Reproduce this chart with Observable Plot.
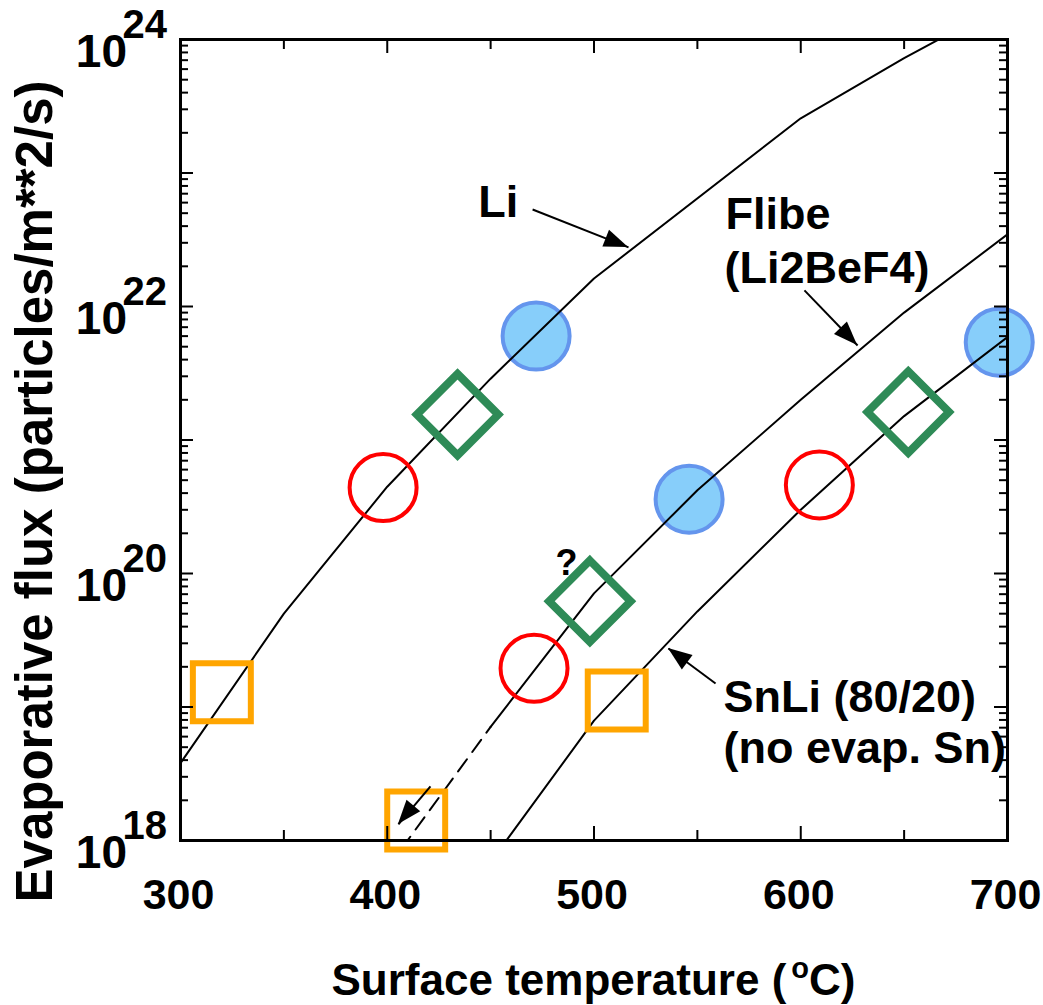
<!DOCTYPE html>
<html><head><meta charset="utf-8">
<script src="https://cdn.jsdelivr.net/npm/d3@7"></script>
<script src="https://cdn.jsdelivr.net/npm/@observablehq/plot@0.6"></script>
<style>
html,body{margin:0;padding:0;background:#fff;}
#chart svg{display:block;}
</style></head><body><div id="chart"></div>
<script>
// ---- data (temperature °C, evaporative flux particles/m^2/s) ----
const liT = [300, 350, 400, 450, 500, 600, 650, 700];
const liF = [3.8e18, 5.0e19, 4.47e20, 2.88e21, 1.62e22, 2.57e23, 7.24e23, 1.9e24];

const flibeT = [450, 500, 550, 600, 650, 700];
const flibeF = [7.1e18, 7.1e19, 4.2e20, 2.0e21, 9.0e21, 3.47e22];
const flibeDashT = [400, 450];
const flibeDashF = [6.2e17, 7.1e18];

const snliT = [450, 500, 550, 600, 650, 700];
const snliF = [6.9e17, 7.9e18, 5.2e19, 3.0e20, 1.51e21, 5.9e21];

// markers: one per material (Li, Flibe, SnLi)
const squareT = [320, 414, 511];
const squareF = [1.29e19, 1.41e18, 1.12e19];
const redT = [398, 471, 609];
const redF = [4.4e20, 1.95e19, 4.6e20];
const diamondT = [434, 498, 652];
const diamondF = [1.55e21, 6.2e19, 1.62e21];
const blueT = [472, 546, 696];
const blueF = [6.0e21, 3.6e20, 5.4e21];

// annotations
const labelText = ["Li", "Flibe", "(Li2BeF4)", "SnLi (80/20)", "(no evap. Sn)"];
const labelT = [444, 563.6, 563.1, 562.6, 562.6];
const labelF = [4.65e22, 3.78e22, 1.51e22, 9.1e18, 3.78e18];
const qText = ["?"];
const qT = [481.4];
const qF = [9.8e19];

const arrowT1 = [470.3, 601.8, 558.8, 420.9];
const arrowF1 = [5.33e22, 1.32e22, 1.5e19, 2.54e18];
const arrowT2 = [516.7, 627.5, 536.0, 405.4];
const arrowF2 = [2.77e22, 5.1e21, 2.74e19, 1.32e18];

// ticks
const xMajor = [300, 400, 500, 600, 700];
const xMinor = [350, 450, 550, 650];
const xTickLabels = ["300", "400", "500", "600", "700"];
const yMajor = [1e18, 1e19, 1e20, 1e21, 1e22, 1e23, 1e24];
const yMinor = [];
for (let e = 18; e < 24; e++) for (let m = 2; m <= 9; m++) yMinor.push(m * Math.pow(10, e));
const yLabelVals = [1e18, 1e20, 1e22, 1e24];
const yLabelExp = ["18", "20", "22", "24"];

const xTitle = "Surface temperature (";
const yTitle = "Evaporative flux (particles/m**2/s)";

// ---- build rows ----
const rows = (T, F) => T.map((t, i) => ({t, f: F[i]}));
const liRows = rows(liT, liF), flibeRows = rows(flibeT, flibeF), flibeDash = rows(flibeDashT, flibeDashF), snliRows = rows(snliT, snliF);
const squares = rows(squareT, squareF), reds = rows(redT, redF), diamonds = rows(diamondT, diamondF), blues = rows(blueT, blueF);
const labels = labelText.map((s, i) => ({s, t: labelT[i], f: labelF[i]}));
const qs = qText.map((s, i) => ({s, t: qT[i], f: qF[i]}));
const arrows = arrowT1.map((t1, i) => ({t1, f1: arrowF1[i], t2: arrowT2[i], f2: arrowF2[i]}));

const W = 1043, H = 1005, ML = 180, MR = 36, MT = 39, MB = 165;
const FW = W - ML - MR, FH = H - MT - MB;
const FONT = "'Liberation Sans', Arial, Helvetica, sans-serif";

function arrowHeads(index, scales) {
  const g = d3.create("svg:g");
  for (const a of arrows) {
    const x1 = scales.x(a.t1), y1 = scales.y(a.f1), x2 = scales.x(a.t2), y2 = scales.y(a.f2);
    const ang = Math.atan2(y2 - y1, x2 - x1);
    const L = 24, Wd = 9;
    const bx = x2 - L * Math.cos(ang), by = y2 - L * Math.sin(ang);
    const px = -Math.sin(ang) * Wd, py = Math.cos(ang) * Wd;
    g.append("path").attr("d", `M${x2},${y2}L${bx + px},${by + py}L${bx - px},${by - py}Z`).attr("fill", "black");
  }
  return g.node();
}

function yTickLabels(index, scales, values, dims) {
  const g = d3.create("svg:g").attr("font-family", FONT).attr("font-weight", "bold").attr("fill", "black");
  yLabelVals.forEach((v, i) => {
    const py = scales.y(v);
    g.append("text").attr("x", dims.marginLeft - 53).attr("y", py + 28)
      .attr("text-anchor", "end").attr("font-size", 46).text("10");
    g.append("text").attr("x", dims.marginLeft - 13).attr("y", py - 1)
      .attr("text-anchor", "end").attr("font-size", 40).text(yLabelExp[i]);
  });
  return g.node();
}

function titles(index, scales, values, dims) {
  const g = d3.create("svg:g").attr("font-family", FONT).attr("font-weight", "bold").attr("fill", "black");
  const cx = (dims.marginLeft + dims.width - dims.marginRight) / 2;
  const t = g.append("text").attr("x", cx).attr("y", dims.height - 10).attr("text-anchor", "middle").attr("font-size", 44);
  t.append("tspan").text(xTitle);
  t.append("tspan").attr("font-size", 29).attr("dx", 5).attr("dy", -17).text("o");
  t.append("tspan").attr("dy", 17).text("C)");
  const cy = (dims.marginTop + dims.height - dims.marginBottom) / 2 + 52;
  g.append("text").attr("transform", `translate(${dims.marginLeft - 128},${cy}) rotate(-90)`)
    .attr("text-anchor", "middle").attr("font-size", 51).text(yTitle);
  return g.node();
}

const plot = Plot.plot({
  width: W, height: H,
  marginLeft: ML, marginRight: MR, marginTop: MT, marginBottom: MB,
  x: {domain: [300, 700], axis: null},
  y: {type: "log", domain: [1e18, 1e24], axis: null},
  style: {fontFamily: FONT, background: "white", color: "black", overflow: "visible"},
  marks: [
    // blue filled circles under the curves
    Plot.dot(blues, {x: "t", y: "f", r: 33.5, fill: "#87CEFA", stroke: "#6495ED", strokeWidth: 4}),
    // curves
    Plot.line(liRows, {x: "t", y: "f", stroke: "black", strokeWidth: 2, clip: true}),
    Plot.line(flibeRows, {x: "t", y: "f", stroke: "black", strokeWidth: 2, clip: true}),
    Plot.line(flibeDash, {x: "t", y: "f", stroke: "black", strokeWidth: 2, strokeDasharray: "15,9", clip: true}),
    Plot.line(snliRows, {x: "t", y: "f", stroke: "black", strokeWidth: 2, clip: true}),
    // open markers
    Plot.dot(reds, {x: "t", y: "f", r: 33.5, fill: "none", stroke: "#FF0000", strokeWidth: 4}),
    Plot.dot(diamonds, {x: "t", y: "f", r: 36.7, symbol: "diamond2", fill: "none", stroke: "#2E8B57", strokeWidth: 8}),
    Plot.dot(squares, {x: "t", y: "f", r: 32.7, symbol: "square", fill: "none", stroke: "#FFA500", strokeWidth: 6}),
    // annotation arrows
    Plot.link(arrows, {x1: "t1", y1: "f1", x2: "t2", y2: "f2", stroke: "black", strokeWidth: 2}),
    arrowHeads,
    Plot.text(labels, {x: "t", y: "f", text: "s", textAnchor: "start", lineAnchor: "bottom", fontSize: 45, fontWeight: "bold", fill: "black"}),
    Plot.text(qs, {x: "t", y: "f", text: "s", textAnchor: "start", lineAnchor: "bottom", fontSize: 36, fontWeight: "bold", fill: "black"}),
    // frame and inward ticks
    Plot.frame({stroke: "black", strokeWidth: 3}),
    Plot.tickX(xMajor, {x: d => d, insetTop: FH - 14, stroke: "black", strokeWidth: 2}),
    Plot.tickX(xMinor, {x: d => d, insetTop: FH - 10, stroke: "black", strokeWidth: 2}),
    Plot.tickX(xMajor, {x: d => d, insetBottom: FH - 14, stroke: "black", strokeWidth: 2}),
    Plot.tickX(xMinor, {x: d => d, insetBottom: FH - 10, stroke: "black", strokeWidth: 2}),
    Plot.tickY(yMajor, {y: d => d, insetRight: FW - 13, stroke: "black", strokeWidth: 2}),
    Plot.tickY(yMinor, {y: d => d, insetRight: FW - 8, stroke: "black", strokeWidth: 2}),
    Plot.tickY(yMajor, {y: d => d, insetLeft: FW - 13, stroke: "black", strokeWidth: 2}),
    Plot.tickY(yMinor, {y: d => d, insetLeft: FW - 8, stroke: "black", strokeWidth: 2}),
    // tick labels
    Plot.text(xMajor, {x: d => d, text: (d, i) => xTickLabels[i], frameAnchor: "bottom", dx: -2, dy: 68, lineAnchor: "bottom", fontSize: 43, fontWeight: "bold", fill: "black"}),
    yTickLabels,
    titles
  ]
});
document.getElementById("chart").appendChild(plot);
</script>
</body></html>
